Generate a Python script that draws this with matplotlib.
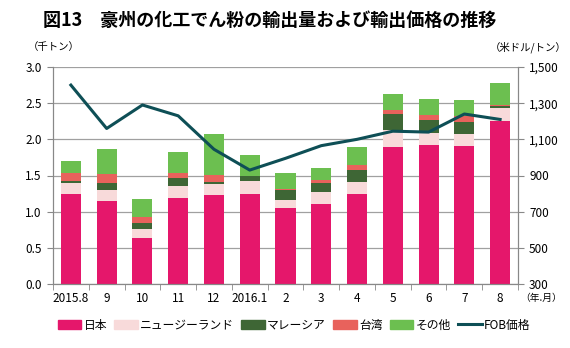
import matplotlib
matplotlib.use("Agg")
import matplotlib.pyplot as plt
import numpy as np
from matplotlib.lines import Line2D
from matplotlib.patches import Patch

plt.rcParams['font.family'] = ['Noto Sans CJK JP', 'DejaVu Sans']

months = ["2015.8", "9", "10", "11", "12", "2016.1", "2", "3", "4", "5", "6", "7", "8"]
japan = [1.25, 1.15, 0.63, 1.19, 1.23, 1.24, 1.05, 1.10, 1.25, 1.90, 1.92, 1.91, 2.25]
nz = [0.14, 0.15, 0.13, 0.17, 0.15, 0.19, 0.11, 0.17, 0.16, 0.23, 0.17, 0.16, 0.18]
malaysia = [0.04, 0.09, 0.09, 0.10, 0.03, 0.06, 0.14, 0.12, 0.17, 0.22, 0.18, 0.17, 0.03]
taiwan = [0.11, 0.13, 0.08, 0.07, 0.10, 0.01, 0.01, 0.05, 0.07, 0.06, 0.06, 0.08, 0.02]
other = [0.16, 0.34, 0.24, 0.29, 0.56, 0.28, 0.22, 0.16, 0.24, 0.22, 0.23, 0.22, 0.30]
fob = [1400, 1160, 1290, 1230, 1045, 930, 995, 1065, 1100, 1145, 1140, 1240, 1210]

series = [("日本", japan, "#E5176B"),
          ("ニュージーランド", nz, "#F8DADA"),
          ("マレーシア", malaysia, "#3E6635"),
          ("台湾", taiwan, "#E8625C"),
          ("その他", other, "#6CBF50")]

fig = plt.figure(figsize=(5.7, 3.48), dpi=100)
ax = fig.add_axes([53/570, 1-284/348, (518-53)/570, (284-67)/348])
x = np.arange(len(months))
bottom = np.zeros(len(months))
for name, vals, col in series:
    ax.bar(x, vals, 0.56, bottom=bottom, color=col, zorder=2, label=name)
    bottom += np.array(vals)

ax.set_xlim(-0.5, len(months) - 0.5)
ax.set_ylim(0, 3.0)
ax.set_yticks(np.arange(0, 3.01, 0.5))
ax.set_yticklabels([f"{v:.1f}" for v in np.arange(0, 3.01, 0.5)], fontsize=8.5)
ax.grid(axis='y', color='#A0A0A0', linewidth=0.9, zorder=0)
ax.set_xticks(x)
ax.set_xticklabels(months, fontsize=8.5)
ax.tick_params(axis='x', length=0, pad=6)
ax.set_xticks(np.arange(-0.5, len(months), 1), minor=True)
ax.tick_params(axis='x', which='minor', length=4, color='#888888', direction='out')
ax.tick_params(axis='y', length=4, color='#888888', pad=4)
ax.spines['top'].set_visible(False)
for s in ['left', 'right', 'bottom']:
    ax.spines[s].set_color('#888888')

ax2 = ax.twinx()
ax2.plot(x, fob, color="#0E4F56", linewidth=2.2, zorder=5)
ax2.set_ylim(300, 1500)
ax2.set_yticks(np.arange(300, 1501, 200))
ax2.set_yticklabels([f"{v:,}" for v in range(300, 1501, 200)], fontsize=8.5)
ax2.tick_params(axis='y', length=4, color='#888888', pad=4)
ax2.spines['top'].set_visible(False)
for s in ['left', 'right', 'bottom']:
    ax2.spines[s].set_color('#888888')

fig.text(270/570, 1-20/348, "図13　豪州の化工でん粉の輸出量および輸出価格の推移",
         ha='center', va='center', fontsize=13, fontweight='bold')
fig.text(54/570, 1-47/348, "（千トン）", ha='center', va='center', fontsize=7.5)
fig.text(528/570, 1-47/348, "（米ドル/トン）", ha='center', va='center', fontsize=7.5)
fig.text(541/570, 1-298/348, "（年.月）", ha='center', va='center', fontsize=7)

handles = [Patch(color=c, label=n) for n, _, c in series]
handles.append(Line2D([0], [0], color="#0E4F56", linewidth=2.2, label="FOB価格"))
fig.legend(handles=handles, loc='center', bbox_to_anchor=(294/570, 1-325/348), ncol=6,
           frameon=False, fontsize=8.5, handlelength=2.0, handleheight=0.7,
           handletextpad=0.2, columnspacing=0.6)

fig.savefig("out.png", dpi=100)
